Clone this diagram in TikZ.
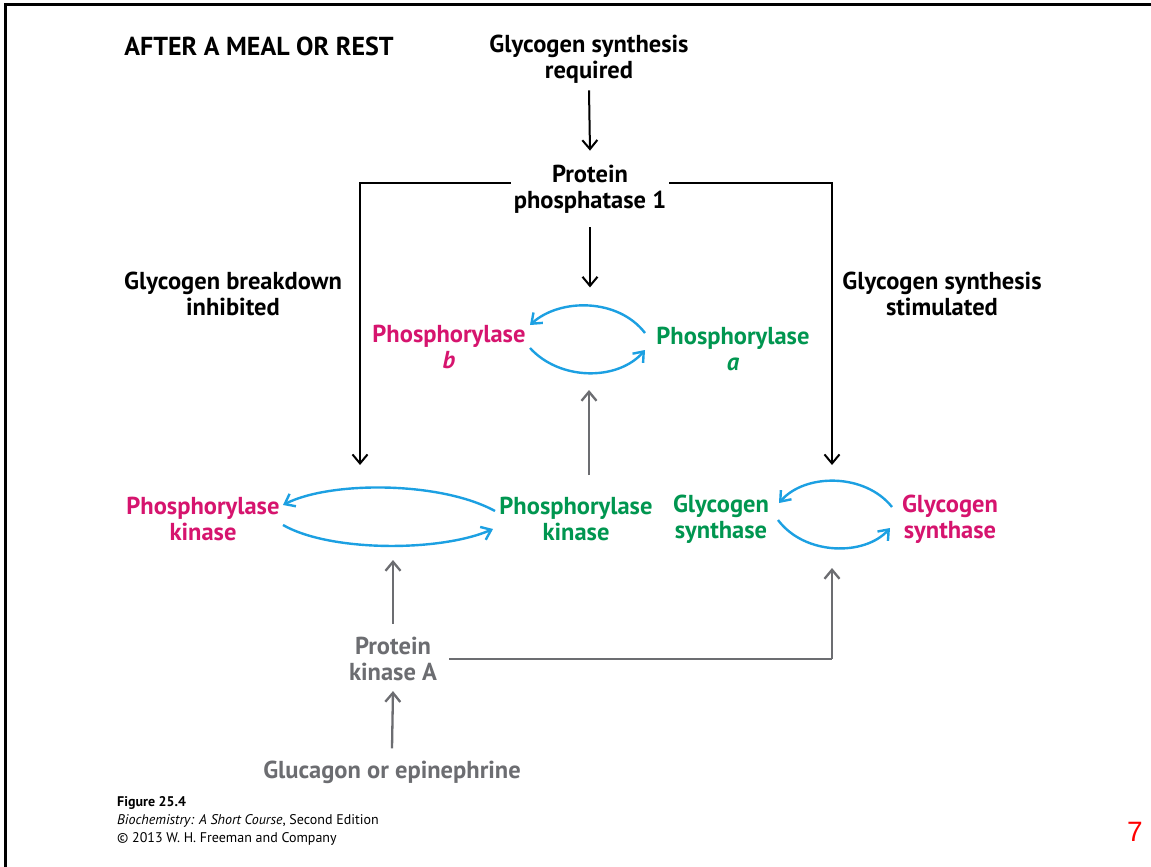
\documentclass[tikz,border=0pt]{standalone}
\usepackage{fontspec}
\setmainfont{PT Sans}
\newfontfamily\arialf{Liberation Sans}
\usetikzlibrary{arrows.meta,calc}
\definecolor{mag}{RGB}{214,20,110}
\definecolor{grn}{RGB}{0,150,80}
\definecolor{cyc}{RGB}{28,160,226}
\definecolor{gry}{RGB}{108,109,113}
\begin{document}
\begin{tikzpicture}[x=1pt,y=-1pt,
  lbl/.style={font=\fontsize{24.5}{26}\selectfont\bfseries, align=center, inner sep=0pt},
  blk/.style={line width=2pt, -{Straight Barb[length=9pt,width=15pt]}},
  gar/.style={draw=gry, line width=2.3pt, -{Straight Barb[length=9pt,width=15pt]}},
  cy/.style={draw=cyc, line width=2.4pt, -{Straight Barb[length=9pt,width=14pt]}}]
\useasboundingbox (0,0) rectangle (1151,867);
\fill[white] (0,0) rectangle (1151,867);
\draw[line width=3pt] (5,867) -- (5,5) -- (1151,5);

% labels
\node[lbl, font=\fontsize{26}{28}\selectfont\bfseries] (title) at (259,46) {AFTER A MEAL OR REST};
\node[lbl] (gsr) at (589,59) {Glycogen synthesis\\required};
\node[lbl] (pp1) at (590,189) {Protein\\phosphatase 1};
\node[lbl] (gbi) at (233,294) {Glycogen breakdown\\inhibited};
\node[lbl] (gss) at (942,294) {Glycogen synthesis\\stimulated};
\node[lbl, text=mag] (pb) at (449,347) {Phosphorylase\\\itshape b};
\node[lbl, text=grn] (pa) at (733,349) {Phosphorylase\\\itshape a};
\node[lbl, text=mag] (pkm) at (203,519) {Phosphorylase\\kinase};
\node[lbl, text=grn] (pkg) at (576,519) {Phosphorylase\\kinase};
\node[lbl, text=grn] (gsg) at (721,519) {Glycogen\\synthase};
\node[lbl, text=mag] (gsm) at (950,519) {Glycogen\\synthase};
\node[lbl, text=gry] (pka) at (393,659) {Protein\\kinase A};
\node[lbl, text=gry] (glu) at (392,772) {Glucagon or epinephrine};
\node[font=\fontsize{14}{18}\selectfont, align=left, inner sep=0pt, anchor=north west] (cap) at (117,796)
  {\textbf{Figure 25.4}\\\textit{Biochemistry: A Short Course}, Second Edition\\\copyright{} 2013 W. H. Freeman and Company};
\node[font=\arialf\fontsize{28}{30}\selectfont, text=red, inner sep=0pt] (pg) at (1135,832) {7};

% coordinates for free ends
\coordinate (lt) at (360,465);
\coordinate (rt) at (832,465);
\coordinate (pc) at (589,390);
\coordinate (pks) at (589,475);
\coordinate (pkt) at (393,560);
\coordinate (gst) at (832,568);

% black arrows
\draw[blk] ([yshift=-7pt]gsr.south) -- ([yshift=14pt]pp1.north);
\draw[blk] ([yshift=-14pt]pp1.south) -- ++(0,60);
\draw[blk] ([xshift=-3pt,yshift=6pt]pp1.west) -| (lt);
\draw[blk] ([xshift=3pt,yshift=6pt]pp1.east) -| (rt);

% gray arrows
\draw[gar] (pks) -- (pc);
\draw[gar] ([yshift=13pt]pka.north) -- (pkt);
\draw[gar] ([yshift=12pt]glu.north) -- ([yshift=-10pt]pka.south);
\draw[gar, -] ([xshift=12pt]pka.east) -- (832,659) coordinate (gk);
\draw[gar] (gk) -- (gst);

% blue cycles
\draw[cy] (645,333) .. controls (618,298) and (560,298) .. (530,325);
\draw[cy] (530,348) .. controls (560,381) and (618,381) .. (645,350);
\draw[cy] (495,511) .. controls (440,481) and (330,481) .. (283,505);
\draw[cy] (283,525) .. controls (330,552) and (440,552) .. (493,529);
\draw[cy] (892,507) .. controls (865,473) and (805,473) .. (779,503);
\draw[cy] (778,520) .. controls (805,556) and (865,556) .. (890,528);
\end{tikzpicture}
\end{document}
